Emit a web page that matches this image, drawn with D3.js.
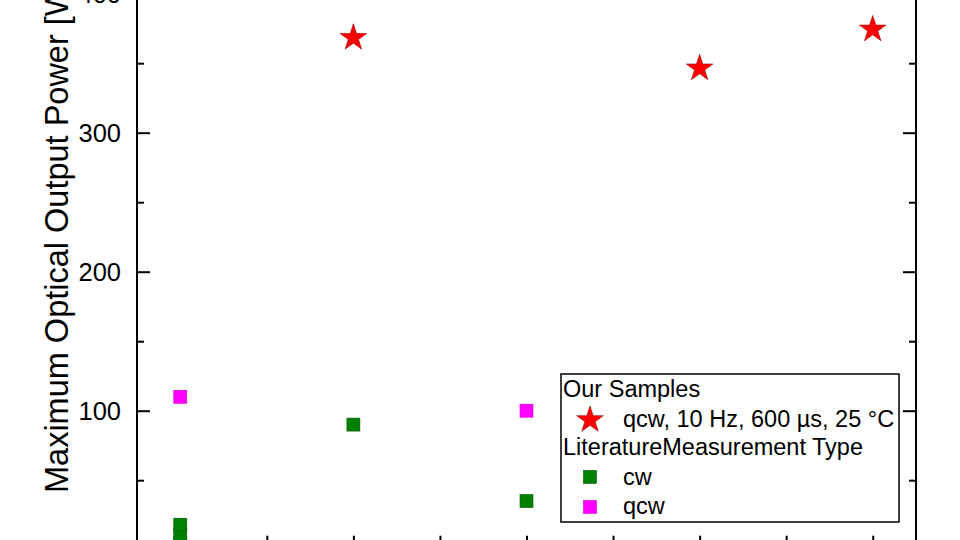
<!DOCTYPE html>
<html>
<head>
<meta charset="utf-8">
<script src="https://cdn.jsdelivr.net/npm/d3@7"></script>
<style>
  html, body { margin: 0; padding: 0; background: #fff; }
  svg { display: block; }
  text { font-family: Arial, "Liberation Sans", sans-serif; fill: #000; }
</style>
</head>
<body>
<svg id="chart" width="960" height="540"></svg>
<script>
// ---- data ----
const categoryPositions = [1, 2, 3, 4, 5];
const ourSamplesX = [2, 4, 5];
const ourSamplesY = [369, 347, 375];
const litCwX = [1, 1, 1, 2, 3];
const litCwY = [5, 11, 18, 90, 35];
const litQcwX = [1, 3];
const litQcwY = [110, 100];
const yTicks = [0, 100, 200, 300, 400];
const yMinorTicks = [50, 150, 250, 350];
const xTicks = [1, 1.5, 2, 2.5, 3, 3.5, 4, 4.5, 5];
const yLabel = "Maximum Optical Output Power [W]";
const legendTitle1 = "Our Samples";
const legendStarLabel = "qcw, 10 Hz, 600 \u00b5s, 25 \u00b0C";
const legendTitle2 = "LiteratureMeasurement Type";
const legendCwLabel = "cw";
const legendQcwLabel = "qcw";

(function () {
// ---- layout ----
const svg = d3.select("#chart");
const plotLeft = 137, plotRight = 916, plotBottom = 549.7;
const x = d3.scaleLinear().domain([0.75, 5.25]).range([plotLeft, plotRight]);
const y = d3.scaleLinear().domain([0, 100]).range([plotBottom, plotBottom - 139]);
const plotTop = y(440);

const colors = { star: "#ff0000", cw: "#008000", qcw: "#ff00ff" };

const g = svg.append("g");
// left axis with inward ticks
const leftAxis = d3.axisLeft(y).tickValues(yTicks).tickSize(-13).tickPadding(16).tickFormat(d3.format("d"));
const la = g.append("g").attr("transform", `translate(${plotLeft},0)`).call(leftAxis);
la.select(".domain").remove();
la.selectAll(".tick line").attr("stroke", "#000").attr("stroke-width", 2);
la.selectAll(".tick text").style("font-size", "25.5px").attr("dy", "0.36em");
g.append("g").attr("transform", `translate(${plotLeft},0)`)
  .call(d3.axisLeft(y).tickValues(yMinorTicks).tickSize(-7).tickFormat(""))
  .call(s => s.select(".domain").remove())
  .selectAll(".tick line").attr("stroke", "#000").attr("stroke-width", 2);

// right axis mirror ticks (inward)
g.append("g").attr("transform", `translate(${plotRight},0)`)
  .call(d3.axisRight(y).tickValues(yTicks).tickSize(-13).tickFormat(""))
  .call(s => s.select(".domain").remove())
  .selectAll(".tick line").attr("stroke", "#000").attr("stroke-width", 2);
g.append("g").attr("transform", `translate(${plotRight},0)`)
  .call(d3.axisRight(y).tickValues(yMinorTicks).tickSize(-7).tickFormat(""))
  .call(s => s.select(".domain").remove())
  .selectAll(".tick line").attr("stroke", "#000").attr("stroke-width", 2);

// bottom axis ticks (inward)
g.append("g").attr("transform", `translate(0,${plotBottom})`)
  .call(d3.axisBottom(x).tickValues(xTicks).tickSize(-14).tickFormat(""))
  .call(s => s.select(".domain").remove())
  .selectAll(".tick line").attr("stroke", "#000").attr("stroke-width", 2);

// frame lines
g.append("line").attr("x1", plotLeft).attr("x2", plotLeft).attr("y1", plotTop).attr("y2", plotBottom + 1)
  .attr("stroke", "#000").attr("stroke-width", 2);
g.append("line").attr("x1", plotRight).attr("x2", plotRight).attr("y1", plotTop).attr("y2", plotBottom + 1)
  .attr("stroke", "#000").attr("stroke-width", 2);
g.append("line").attr("x1", plotLeft).attr("x2", plotRight).attr("y1", plotBottom).attr("y2", plotBottom)
  .attr("stroke", "#000").attr("stroke-width", 2);

// y label
svg.append("text")
  .attr("transform", `translate(68,493) rotate(-90)`)
  .attr("text-anchor", "start")
  .style("font-size", "32.5px")
  .text(yLabel);

// ---- marks ----
const sq = 13;
const starSym = d3.symbol().type(d3.symbolStar).size(220);

svg.append("g").selectAll("rect.cw")
  .data(litCwX.map((d, i) => ({ x: d, y: litCwY[i] })))
  .join("rect")
  .attr("x", d => x(d.x) - sq / 2).attr("y", d => y(d.y) - sq / 2)
  .attr("width", sq).attr("height", sq)
  .attr("fill", colors.cw).attr("stroke", "#005a00").attr("stroke-width", 0.6);

svg.append("g").selectAll("rect.qcw")
  .data(litQcwX.map((d, i) => ({ x: d, y: litQcwY[i] })))
  .join("rect")
  .attr("x", d => x(d.x) - sq / 2).attr("y", d => y(d.y) - sq / 2)
  .attr("width", sq).attr("height", sq)
  .attr("fill", colors.qcw).attr("stroke", "#d000d0").attr("stroke-width", 0.6);

svg.append("g").selectAll("path.star")
  .data(ourSamplesX.map((d, i) => ({ x: d, y: ourSamplesY[i] })))
  .join("path")
  .attr("d", starSym)
  .attr("transform", d => `translate(${x(d.x)},${y(d.y) + 1})`)
  .attr("fill", colors.star).attr("stroke", "#a00000").attr("stroke-width", 0.6);

// ---- legend ----
const lg = svg.append("g");
lg.append("rect").attr("x", 561).attr("y", 374).attr("width", 338).attr("height", 148)
  .attr("fill", "#fff").attr("stroke", "#000").attr("stroke-width", 1.5);
const fs = "23.5px";
lg.append("text").attr("x", 563).attr("y", 397).style("font-size", fs).text(legendTitle1);
lg.append("path").attr("d", starSym).attr("transform", "translate(590,420)")
  .attr("fill", colors.star).attr("stroke", "#a00000").attr("stroke-width", 0.6);
lg.append("text").attr("x", 623).attr("y", 427).style("font-size", fs).text(legendStarLabel);
lg.append("text").attr("x", 563).attr("y", 455).style("font-size", fs).text(legendTitle2);
lg.append("rect").attr("x", 590 - sq / 2).attr("y", 477 - sq / 2).attr("width", sq).attr("height", sq)
  .attr("fill", colors.cw).attr("stroke", "#005a00").attr("stroke-width", 0.6);
lg.append("text").attr("x", 623).attr("y", 485).style("font-size", fs).text(legendCwLabel);
lg.append("rect").attr("x", 590 - sq / 2).attr("y", 507 - sq / 2).attr("width", sq).attr("height", sq)
  .attr("fill", colors.qcw).attr("stroke", "#d000d0").attr("stroke-width", 0.6);
lg.append("text").attr("x", 623).attr("y", 514).style("font-size", fs).text(legendQcwLabel);
})();
</script>
</body>
</html>
